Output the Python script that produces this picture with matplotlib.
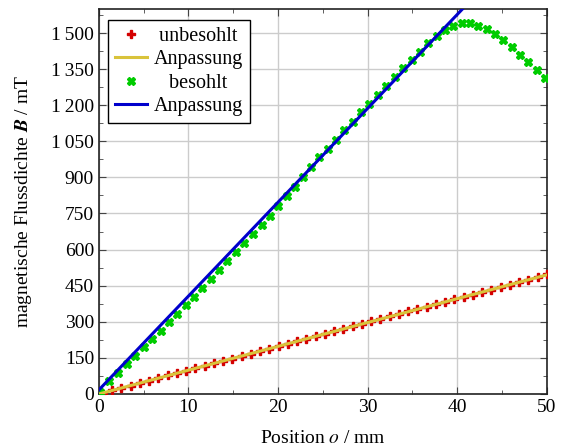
import numpy as np
import matplotlib
matplotlib.use("Agg")
import matplotlib.pyplot as plt
from matplotlib.ticker import MultipleLocator, FuncFormatter

plt.rcParams['font.family'] = ['Liberation Serif', 'DejaVu Serif']
plt.rcParams['mathtext.fontset'] = 'stix'

# unbesohlt (red) measurement
x_unbes = [0.46, 1.49, 2.52, 3.56, 4.59, 5.62, 6.65, 7.69, 8.72, 9.75,
           10.78, 11.81, 12.85, 13.88, 14.91, 15.94, 16.98, 18.01, 19.04, 20.07,
           21.10, 22.14, 23.17, 24.20, 25.23, 26.26, 27.30, 28.33, 29.36, 30.39,
           31.42, 32.46, 33.49, 34.52, 35.55, 36.58, 37.62, 38.65, 39.68, 40.71,
           41.74, 42.78, 43.81, 44.84, 45.87, 46.90, 47.94, 48.97, 50.00]
B_unbes = [2, 15, 26, 35, 46, 56, 65, 77, 86, 97,
           106, 118, 127, 138, 147, 158, 167, 179, 188, 199,
           208, 220, 229, 240, 249, 261, 270, 281, 290, 302,
           311, 322, 331, 343, 352, 363, 372, 384, 393, 404,
           413, 425, 434, 445, 454, 466, 475, 486, 497]

# besohlt (green) measurement
x_bes = [0.15, 1.1, 2.1, 3.1, 4.05, 5.0, 5.95, 6.9, 7.8, 8.75,
         9.7, 10.6, 11.55, 12.5, 13.4, 14.35, 15.3, 16.25, 17.2, 18.15,
         19.1, 20.0, 20.95, 21.9, 22.8, 23.7, 24.6, 25.55, 26.45, 27.4,
         28.35, 29.3, 30.2, 31.15, 32.1, 33.0, 33.95, 34.9, 35.8, 36.75,
         37.7, 38.6, 39.55, 40.5, 41.4, 42.35, 43.3, 44.2, 45.15, 46.1,
         47.0, 47.95, 48.9, 49.8]
B_bes = [10, 52, 89, 125, 159, 194, 227, 263, 298, 333,
         370, 405, 440, 478, 515, 553, 590, 628, 665, 704,
         740, 780, 822, 862, 903, 942, 983, 1020, 1056, 1095,
         1132, 1170, 1206, 1243, 1279, 1317, 1354, 1386, 1422, 1458,
         1489, 1511, 1530, 1541, 1541, 1531, 1518, 1497, 1469, 1441,
         1410, 1378, 1346, 1315]

# linear fits (slope mT/mm, intercept mT)
fit_unbes = (9.9, 0.0)
fit_bes = (39.0, 17.0)

x_fit = np.array([0, 50])

fig, ax = plt.subplots(figsize=(5.62, 4.47), dpi=100)
fig.subplots_adjust(left=0.176, right=0.973, bottom=0.1186, top=0.98)

red = '#d40000'
yellow = '#d9c33b'
green = '#00cc00'
blue = '#0000cc'
fs = 14

ax.plot(x_unbes, B_unbes, linestyle='none', marker='P', ms=5.5, color=red,
        mec=red, label=' unbesohlt', zorder=3)
ax.plot(x_fit, fit_unbes[0] * x_fit + fit_unbes[1], color=yellow, lw=2.2,
        label='Anpassung', zorder=4)
ax.plot(x_bes, B_bes, linestyle='none', marker='X', ms=5.5, color=green,
        mec=green, label='   besohlt', zorder=3)
ax.plot(x_fit, fit_bes[0] * x_fit + fit_bes[1], color=blue, lw=2.2,
        label='Anpassung', zorder=4)

ax.set_xlim(0, 50)
ax.set_ylim(0, 1600)
ax.xaxis.set_major_locator(MultipleLocator(10))
ax.xaxis.set_minor_locator(MultipleLocator(5))
ax.yaxis.set_major_locator(MultipleLocator(150))
ax.yaxis.set_minor_locator(MultipleLocator(75))

def fmt(v, pos):
    v = int(round(v))
    return f"{v:,}".replace(",", "\u2009")

ax.yaxis.set_major_formatter(FuncFormatter(fmt))
ax.tick_params(which='both', direction='in', top=True, right=True,
               labelsize=fs, color='#444444')
ax.tick_params(which='major', length=5)
ax.tick_params(which='minor', length=3)
ax.grid(True, which='major', color='#cccccc', lw=1)
ax.set_axisbelow(True)
for s in ax.spines.values():
    s.set_linewidth(1.2)
    s.set_color('#222222')

ax.set_xlabel('Position $\\mathit{o}$ / mm', fontsize=fs, labelpad=10)
ax.set_ylabel('magnetische Flussdichte $\\mathbfit{B}$ / mT', fontsize=fs,
              labelpad=12)

leg = ax.legend(loc='upper left', bbox_to_anchor=(0.02, 0.972), fontsize=14.5,
                frameon=True, fancybox=False, edgecolor='black',
                framealpha=1, handlelength=1.6, handletextpad=0.35,
                borderpad=0.35, labelspacing=0.22, borderaxespad=0)
leg.get_frame().set_linewidth(1.0)

plt.savefig('out.png', dpi=100)
